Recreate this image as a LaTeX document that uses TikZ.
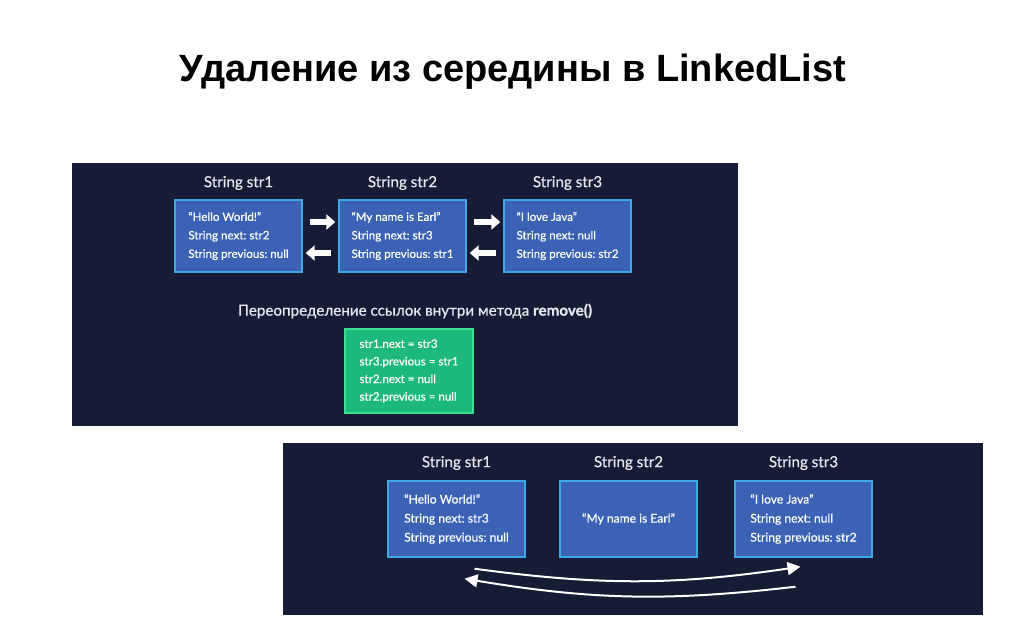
\documentclass[tikz,border=0pt]{standalone}
\usepackage{fontspec}
\setmainfont{Lato}[FakeBold=0.6,BoldFont=Lato Bold]
\newfontfamily\titlefont{Liberation Sans}
\usetikzlibrary{arrows.meta,positioning}
\frenchspacing
\definecolor{panelbg}{HTML}{161B36}
\definecolor{boxblue}{HTML}{3B62B5}
\definecolor{boxedge}{HTML}{3FA9E6}
\definecolor{mint}{HTML}{1DB97A}
\definecolor{mintedge}{HTML}{3DDC90}
\definecolor{hdrgray}{HTML}{E6E8EE}
\tikzset{
  panel/.style    = {fill=panelbg,draw=none},
  objbox/.style   = {draw=boxedge,fill=boxblue,line width=1.4pt,minimum width=127pt,
                     minimum height=72pt,inner sep=0pt,
                     align=left,text=white,font=\fontsize{11.6}{18.5}\selectfont},
  widebox/.style  = {objbox,minimum width=137pt,minimum height=76pt,
                     font=\fontsize{12.1}{19}\selectfont},
  codebox/.style  = {draw=mintedge,fill=mint,line width=1.4pt,minimum width=128pt,
                     minimum height=84pt,inner sep=0pt,
                     align=left,text=white,font=\fontsize{11.6}{17.6}\selectfont},
  hdr/.style      = {text=hdrgray,font=\fontsize{15.2}{17}\selectfont},
  blockarr/.style = {-{Triangle[length=9pt,width=15pt]},line width=6pt,white},
  curvarr/.style  = {-{Triangle[length=13pt,width=13pt]},line width=2pt,white}
}
\newcommand{\objtext}[3]{#1\\String next: #2\\String previous: #3}

\begin{document}
\begin{tikzpicture}[x=1pt,y=-1pt]
  \useasboundingbox[fill=white] (0,0) rectangle (1024,638);
  \node[font=\titlefont\bfseries\fontsize{38}{42}\selectfont] (title) at (513,72)
    {Удаление из середины в LinkedList};

  \fill[panel] (72,163) rectangle (738,426);
  \node[hdr] (h1) at (238.5,183) {String str1};
  \node[hdr] (h2) at (402.5,183) {String str2};
  \node[hdr] (h3) at (567.5,183) {String str3};
  \node[objbox] (a1) at (238.5,236) {\objtext{“Hello World!”}{str2}{null}};
  \node[objbox] (a2) at (402.5,236) {\objtext{“My name is Earl”}{str3}{str1}};
  \node[objbox] (a3) at (567.5,236) {\objtext{“I love Java”}{null}{str2}};
  \draw[blockarr] ([yshift=14pt,xshift=7pt]a1.east) -- ([yshift=14pt,xshift=-3pt]a2.west);
  \draw[blockarr] ([yshift=-17pt,xshift=-7pt]a2.west) -- ([yshift=-17pt,xshift=3pt]a1.east);
  \draw[blockarr] ([yshift=14pt,xshift=7pt]a2.east) -- ([yshift=14pt,xshift=-3pt]a3.west);
  \draw[blockarr] ([yshift=-17pt,xshift=-7pt]a3.west) -- ([yshift=-17pt,xshift=3pt]a2.east);
  \node[hdr] (cap) at (415,311)
    {Переопределение ссылок внутри метода \textbf{remove()}};
  \node[codebox] (code) at (409,371)
    {str1.next = str3\\str3.previous = str1\\str2.next = null\\str2.previous = null};

  \fill[panel] (283,443) rectangle (983,615);
  \node[hdr] (k1) at (456.5,463) {String str1};
  \node[hdr] (k2) at (628.5,463) {String str2};
  \node[hdr] (k3) at (803.5,463) {String str3};
  \node[widebox] (b1) at (456.5,519) {\objtext{“Hello World!”}{str3}{null}};
  \node[widebox,align=center] (b2) at (628.5,519) {“My name is Earl”};
  \node[widebox] (b3) at (803.5,519) {\objtext{“I love Java”}{null}{str2}};
  \draw[curvarr] ([xshift=18pt,yshift=-11pt]b1.south) to[bend right=8] ([xshift=-3pt,yshift=-9pt]b3.south);
  \draw[curvarr] ([xshift=-8pt,yshift=-29pt]b3.south) to[bend left=8] ([xshift=8pt,yshift=-21pt]b1.south);
\end{tikzpicture}
\end{document}
